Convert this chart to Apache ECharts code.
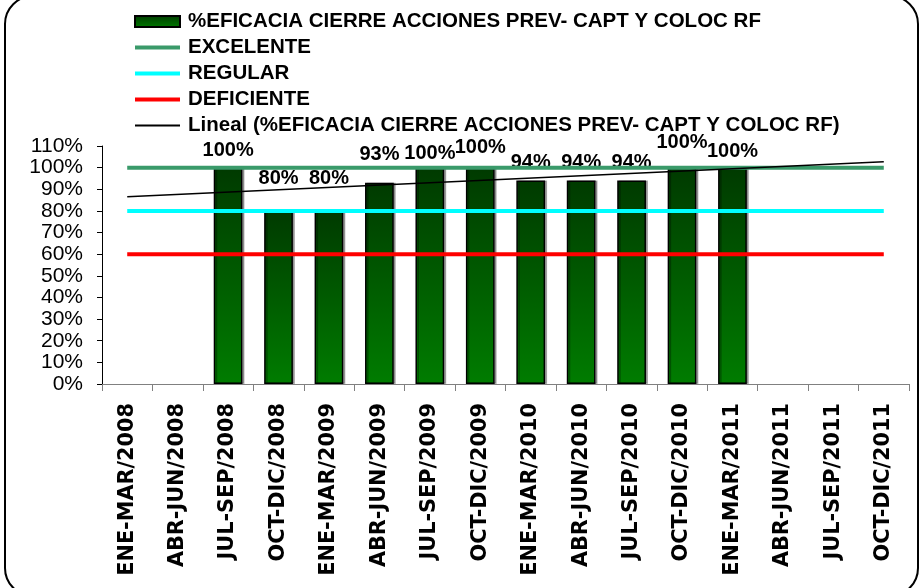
<!DOCTYPE html>
<html lang="es">
<head>
    <meta charset="UTF-8">
    <title>Eficacia cierre acciones</title>
    <style>
        html,body{margin:0;padding:0;background:#fff;}
        #chart{width:919px;height:588px;}
    </style>
</head>
<body>
    <div id="chart"></div>
    <script src="https://cdn.jsdelivr.net/npm/echarts@6/dist/echarts.min.js"></script>
    <script>
        // datos
        let periodos=['ENE-MAR/2008','ABR-JUN/2008','JUL-SEP/2008','OCT-DIC/2008','ENE-MAR/2009','ABR-JUN/2009',
            'JUL-SEP/2009','OCT-DIC/2009','ENE-MAR/2010','ABR-JUN/2010','JUL-SEP/2010','OCT-DIC/2010',
            'ENE-MAR/2011','ABR-JUN/2011','JUL-SEP/2011','OCT-DIC/2011'];
        let eficacia=[null,null,100,80,80,93,100,100,94,94,94,100,100,null,null,null];
        let excelente=[100,100,100,100,100,100,100,100,100,100,100,100,100,100,100,100];
        let regular=[80,80,80,80,80,80,80,80,80,80,80,80,80,80,80,80];
        let deficiente=[60,60,60,60,60,60,60,60,60,60,60,60,60,60,60,60];
        // extremos de la linea de tendencia (lineal)
        let tendencia=[['ENE-MAR/2008',86.6],['OCT-DIC/2011',102.7]];
        let yTicks={min:0,max:110,interval:10};

        let nombreBarra='%EFICACIA CIERRE ACCIONES PREV- CAPT Y COLOC RF';
        let font='"Liberation Sans", Arial, sans-serif';

        // las etiquetas de Excel estan movidas a mano, separacion sobre cada barra
        let separacion=[0,0,7,22,22,18,4,10,8,8,8,15,6,0,0,0];
        let barras=eficacia.map((v,i)=>{
            return v==null ? null : {value:v,label:{distance:separacion[i]}};
        });

        let chart=echarts.init(document.getElementById('chart'));
        let option={
            backgroundColor:'#fff',
            animation:false,
            textStyle:{fontFamily:font},
            graphic:[{
                type:'rect',
                shape:{x:5,y:-4,width:913,height:600,r:28},
                style:{fill:'none',stroke:'#000',lineWidth:2},
                silent:true,
            }],
            legend:{
                orient:'vertical',
                left:128,
                top:6,
                itemWidth:45,
                itemHeight:11,
                itemGap:5,
                textStyle:{fontSize:20.5,fontWeight:'bold',color:'#000',fontFamily:font,padding:[0,0,0,3]},
                data:[
                    {name:nombreBarra,icon:'rect'},
                    {name:'EXCELENTE',itemStyle:{opacity:0},lineStyle:{width:4}},
                    {name:'REGULAR',itemStyle:{opacity:0},lineStyle:{width:4}},
                    {name:'DEFICIENTE',itemStyle:{opacity:0},lineStyle:{width:4}},
                    {name:'Lineal ('+nombreBarra+')',itemStyle:{opacity:0},lineStyle:{width:2}},
                ],
            },
            grid:{left:102,right:10,top:146,bottom:204},
            xAxis:{
                type:'category',
                data:periodos,
                boundaryGap:true,
                axisLine:{lineStyle:{color:'#808080',width:1}},
                axisTick:{show:true,length:7,interval:0,lineStyle:{color:'#808080'}},
                axisLabel:{
                    interval:0,
                    rotate:90,
                    margin:19,
                    fontSize:20.8,
                    fontWeight:'bold',
                    color:'#000',
                    fontFamily:'"DejaVu Sans", sans-serif',
                    textShadowColor:'rgba(0,0,0,0.3)',
                    textShadowOffsetX:1,
                    textShadowOffsetY:1,
                },
            },
            yAxis:{
                type:'value',
                min:yTicks.min,
                max:yTicks.max,
                interval:yTicks.interval,
                axisLine:{show:true,lineStyle:{color:'#000',width:1}},
                axisTick:{show:true,length:5,lineStyle:{color:'#000'}},
                splitLine:{show:false},
                axisLabel:{formatter:'{value}%',fontSize:21,color:'#000',margin:19,fontFamily:font},
            },
            series:[
                {
                    name:nombreBarra,
                    type:'bar',
                    data:barras,
                    barWidth:'57%',
                    itemStyle:{
                        color:new echarts.graphic.LinearGradient(0,0,0,1,[
                            {offset:0,color:'#003a00'},
                            {offset:1,color:'#007c00'},
                        ]),
                        borderColor:'#000',
                        borderWidth:1.5,
                        shadowColor:'rgba(0,0,0,0.3)',
                        shadowOffsetX:2,
                        shadowOffsetY:0,
                    },
                    label:{
                        show:true,
                        position:'top',
                        distance:6,
                        formatter:'{c}%',
                        fontSize:20,
                        fontWeight:'bold',
                        color:'#000',
                        fontFamily:font,
                    },
                    z:2,
                },
                {
                    name:'EXCELENTE',
                    type:'line',
                    data:excelente,
                    symbol:'none',
                    lineStyle:{color:'#3a9a6a',width:4},
                    itemStyle:{color:'#3a9a6a'},
                    z:3,
                },
                {
                    name:'REGULAR',
                    type:'line',
                    data:regular,
                    symbol:'none',
                    lineStyle:{color:'#00ffff',width:4},
                    itemStyle:{color:'#00ffff'},
                    z:3,
                },
                {
                    name:'DEFICIENTE',
                    type:'line',
                    data:deficiente,
                    symbol:'none',
                    lineStyle:{color:'#ff0000',width:4},
                    itemStyle:{color:'#ff0000'},
                    z:3,
                },
                {
                    name:'Lineal ('+nombreBarra+')',
                    type:'line',
                    data:tendencia,
                    symbol:'none',
                    lineStyle:{color:'#000',width:1.5},
                    itemStyle:{color:'#000'},
                    z:4,
                },
            ],
        };
        chart.setOption(option);
    </script>
</body>
</html>
